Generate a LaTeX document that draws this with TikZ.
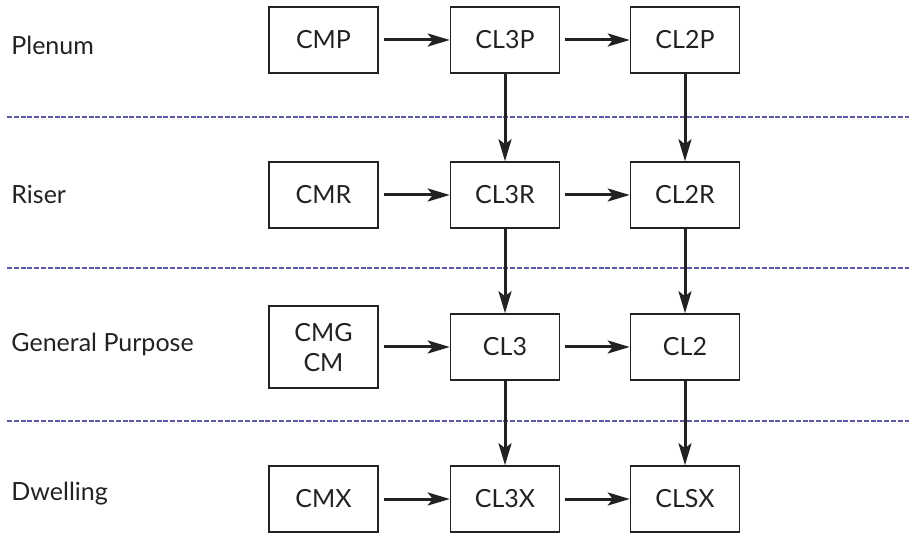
\documentclass[tikz,border=0pt]{standalone}
\usepackage{fontspec}
\setmainfont{Lato}
\usetikzlibrary{positioning, arrows.meta}
\definecolor{sepblue}{HTML}{5A5AA8}
\definecolor{ink}{HTML}{222222}

\begin{document}
\begin{tikzpicture}[x=0.5pt,y=-0.5pt,font=\fontsize{12.5}{15}\selectfont,text=ink,
  cable/.style={draw=ink,line width=0.75pt,minimum width=54.5pt,minimum height=33pt,
    inner sep=0pt,align=center},
  link/.style={draw=ink,line width=1.5pt,-{Stealth[length=11pt,width=6.5pt,inset=2.5pt]}},
  sep/.style={draw=sepblue,line width=0.65pt,dash pattern=on 2.5pt off 0.9pt}]
\useasboundingbox (0,0) rectangle (909,533);
% class boundaries
\foreach \y in {117,268,421}
\draw[sep] (7,\y) -- (909,\y);
% class names
\foreach \y/\name/\label in
{45/plenum/Plenum, 194/riser/Riser, 344/general/General Purpose, 494/dwelling/Dwelling}
\node[anchor=west,inner sep=0pt] (\name) at (11,\y) {\label};
% cable types
\node[cable] (cmp) at (323.5,40) {CMP};
\node[cable] (cl3p) at (505,40) {CL3P};
\node[cable] (cl2p) at (685,40) {CL2P};
\node[cable] (cmr) at (323.5,195) {CMR};
\node[cable] (cl3r) at (505,195) {CL3R};
\node[cable] (cl2r) at (685,195) {CL2R};
\node[cable,minimum height=41pt,text depth=0pt] (cmg) at (323.5,347) {CMG\\CM};
\node[cable] (cl3) at (505,347) {CL3};
\node[cable] (cl2) at (685,347) {CL2};
\node[cable] (cmx) at (323.5,499) {CMX};
\node[cable] (cl3x) at (505,499) {CL3X};
\node[cable] (clsx) at (685,499) {CLSX};
% substitutions
\foreach \a/\b in {cmp/cl3p, cl3p/cl2p, cmr/cl3r, cl3r/cl2r, cmg/cl3, cl3/cl2, cmx/cl3x, cl3x/clsx}
\draw[link,shorten <=2.5pt] (\a) -- (\b);
\foreach \a/\b in {cl3p/cl3r, cl2p/cl2r, cl3r/cl3, cl2r/cl2, cl3/cl3x, cl2/clsx}
\draw[link] (\a) -- (\b);
\end{tikzpicture}
\end{document}
